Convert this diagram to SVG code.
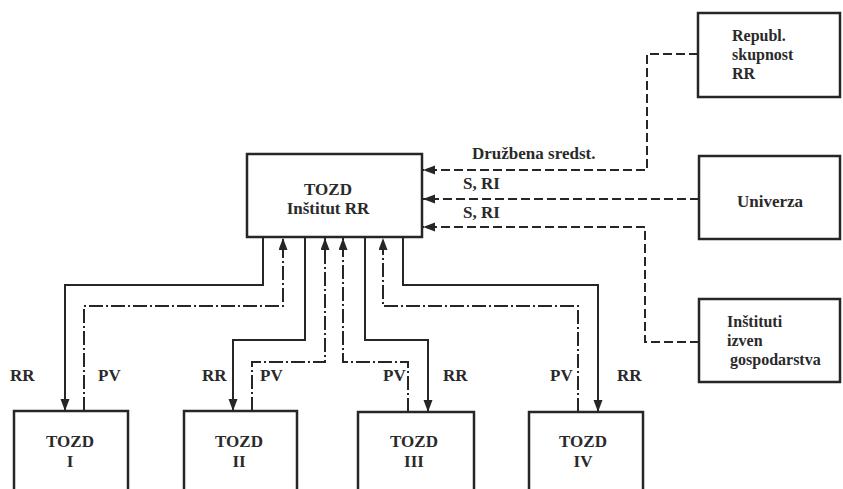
<svg xmlns="http://www.w3.org/2000/svg" width="843" height="489" viewBox="0 0 843 489">
<style>
.box{fill:none;stroke:#262626;stroke-width:2.5}
.ln{fill:none;stroke:#262626;stroke-width:2}
.dash{stroke-dasharray:9 4}
.dd{stroke-dasharray:14 3 2 3}
.t{font-family:"Liberation Serif",serif;font-weight:bold;font-size:17px;fill:#2a2a2a}
.s{font-size:16px}
.c{text-anchor:middle}
</style>
<defs>
<marker id="ah" markerUnits="userSpaceOnUse" markerWidth="13" markerHeight="10" refX="12" refY="4.5" orient="auto">
<path d="M0,0 L12,4.5 L0,9 z" fill="#262626"/>
</marker>
</defs>
<rect x="0" y="0" width="843" height="489" fill="#ffffff"/>
<g id="connectors">
<path class="ln" d="M263,237 V285 H65 V411" marker-end="url(#ah)"/>
<path class="ln dd" d="M84,411 V306 H283 V238" marker-end="url(#ah)"/>
<path class="ln" d="M305,237 V340 H233 V411" marker-end="url(#ah)"/>
<path class="ln dd" d="M252,411 V362 H325 V238" marker-end="url(#ah)"/>
<path class="ln dd" d="M408,412 V362 H343 V238" marker-end="url(#ah)"/>
<path class="ln" d="M365,237 V340 H428 V412" marker-end="url(#ah)"/>
<path class="ln dd" d="M578,412 V306 H383 V238" marker-end="url(#ah)"/>
<path class="ln" d="M403,237 V285 H598 V412" marker-end="url(#ah)"/>
<path class="ln dash" d="M698,54 H647 V170 H423" marker-end="url(#ah)"/>
<path class="ln dash" d="M699,199 H423" marker-end="url(#ah)"/>
<path class="ln dash" d="M699,342 H645 V227 H423" marker-end="url(#ah)"/>
<text class="t" x="472" y="159">Družbena sredst.</text>
<text class="t" x="463" y="189">S, RI</text>
<text class="t" x="463" y="218">S, RI</text>
<text class="t" x="10" y="381">RR</text>
<text class="t" x="98" y="381">PV</text>
<text class="t" x="202" y="381">RR</text>
<text class="t" x="260" y="381">PV</text>
<text class="t" x="383" y="381">PV</text>
<text class="t" x="443" y="381">RR</text>
<text class="t" x="550" y="381">PV</text>
<text class="t" x="617" y="381">RR</text>
</g>
<g id="center">
<rect class="box" x="247" y="154" width="175" height="83"/>
<text class="t c" x="328" y="195">TOZD</text>
<text class="t c" x="328" y="214">Inštitut RR</text>
</g>
<g id="republ">
<rect class="box" x="698" y="13" width="142" height="84"/>
<text class="t s" x="732" y="41">Republ.</text>
<text class="t s" x="732" y="60">skupnost</text>
<text class="t s" x="732" y="79">RR</text>
</g>
<g id="univerza">
<rect class="box" x="699" y="156" width="141" height="83"/>
<text class="t" x="737" y="207">Univerza</text>
</g>
<g id="institut">
<rect class="box" x="699" y="299" width="141" height="83"/>
<text class="t s" x="727" y="327">Inštituti</text>
<text class="t s" x="727" y="346">izven</text>
<text class="t s" x="730" y="365">gospodarstva</text>
</g>
<g id="tozd1">
<rect class="box" x="14" y="411" width="114" height="90"/>
<text class="t c" x="70" y="447">TOZD</text>
<text class="t c" x="70" y="467">I</text>
</g>
<g id="tozd2">
<rect class="box" x="184" y="411" width="113" height="90"/>
<text class="t c" x="239" y="447">TOZD</text>
<text class="t c" x="239" y="467">II</text>
</g>
<g id="tozd3">
<rect class="box" x="358" y="412" width="116" height="90"/>
<text class="t c" x="414" y="447">TOZD</text>
<text class="t c" x="414" y="467">III</text>
</g>
<g id="tozd4">
<rect class="box" x="529" y="412" width="114" height="90"/>
<text class="t c" x="583" y="447">TOZD</text>
<text class="t c" x="583" y="467">IV</text>
</g>
</svg>
